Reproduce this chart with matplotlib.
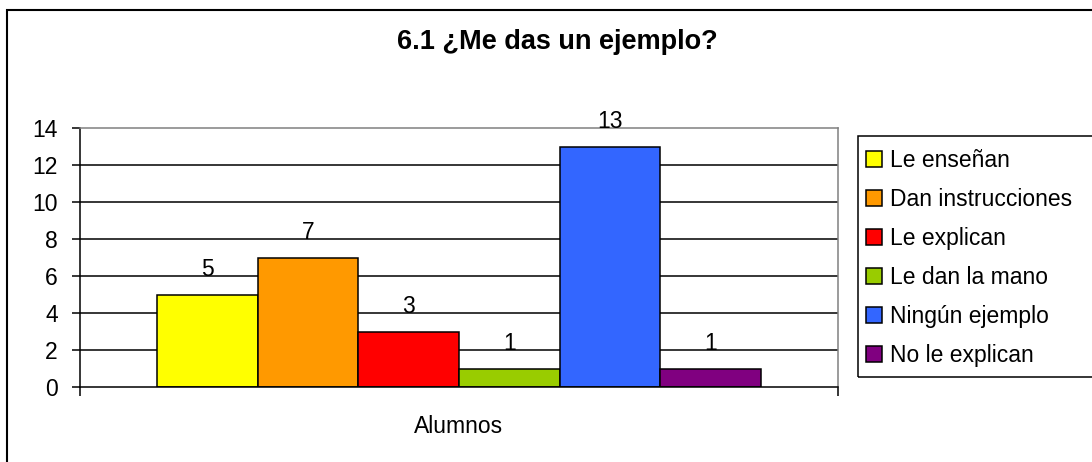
import matplotlib.pyplot as plt
from matplotlib.patches import Patch, Rectangle

# --- data ---------------------------------------------------------------------
categories = ["Le enseñan", "Dan instrucciones", "Le explican",
              "Le dan la mano", "Ningún ejemplo", "No le explican"]
values = [5, 7, 3, 1, 13, 1]
group_label = "Alumnos"
y_ticks = [0, 2, 4, 6, 8, 10, 12, 14]
title = "6.1 ¿Me das un ejemplo?"

colors = ["#FFFF00", "#FF9900", "#FF0000", "#99CC00", "#3366FF", "#800080"]

plt.rcParams["font.family"] = ["Liberation Sans", "DejaVu Sans"]
FS = 16.5

W, H = 1092, 462
fig = plt.figure(figsize=(W / 100, H / 100), dpi=100)
fig.patch.set_facecolor("white")

# outer chart frame (runs off the right/bottom edge)
fig.patches.append(Rectangle((7 / W, -0.2), 1.5, (H - 10) / H + 0.2,
                             transform=fig.transFigure, fill=False,
                             edgecolor="black", linewidth=1.5))

ax = fig.add_axes([80 / W, (H - 387) / H, (838 - 80) / W, (387 - 128) / H])

n = len(values)
bar_w = 0.1328
offsets = [(i - (n - 1) / 2) * bar_w for i in range(n)]

for y in y_ticks[1:-1]:
    ax.axhline(y, color="black", linewidth=1.1, zorder=0)

for off, v, c in zip(offsets, values, colors):
    ax.bar(off, v, width=bar_w, color=c, edgecolor="black",
           linewidth=1.1, zorder=2)
    ax.annotate(str(v), (off, v), xytext=(0, 13.5), textcoords="offset points",
                ha="center", va="baseline", fontsize=FS)

ax.set_xlim(-0.5, 0.5)
ax.set_ylim(y_ticks[0], y_ticks[-1])
ax.set_yticks(y_ticks)
ax.tick_params(axis="y", direction="out", length=6, width=1.1, pad=10,
               labelsize=FS)
ax.set_xticks([0], labels=[group_label])
ax.set_xticks([-0.5, 0.5], minor=True)
ax.tick_params(axis="x", which="major", length=0, pad=20, labelsize=FS)
ax.tick_params(axis="x", which="minor", direction="out", length=6.5, width=1.1)

ax.spines["left"].set_linewidth(1.1)
ax.spines["bottom"].set_linewidth(1.1)
for s in ("top", "right"):
    ax.spines[s].set_color("#808080")
    ax.spines[s].set_linewidth(1.1)

fig.text(557 / W, (H - 42) / H, title, ha="center", va="center",
         fontsize=19.5, fontweight="bold")

# legend box (runs off the right edge)
fig.patches.append(Rectangle((858 / W, (H - 377) / H), 0.3, 241 / H,
                             transform=fig.transFigure, fill=False,
                             edgecolor="black", linewidth=1.1))
handles = [Patch(facecolor=c, edgecolor="black", linewidth=1.1) for c in colors]
fig.legend(handles, categories, loc="upper left",
           bbox_to_anchor=(866 / W, (H - 149) / H), frameon=False,
           fontsize=FS, handlelength=0.68, handleheight=0.68,
           handletextpad=0.35, labelspacing=0.7, borderpad=0,
           borderaxespad=0)

fig.savefig("out.png", dpi=100)
